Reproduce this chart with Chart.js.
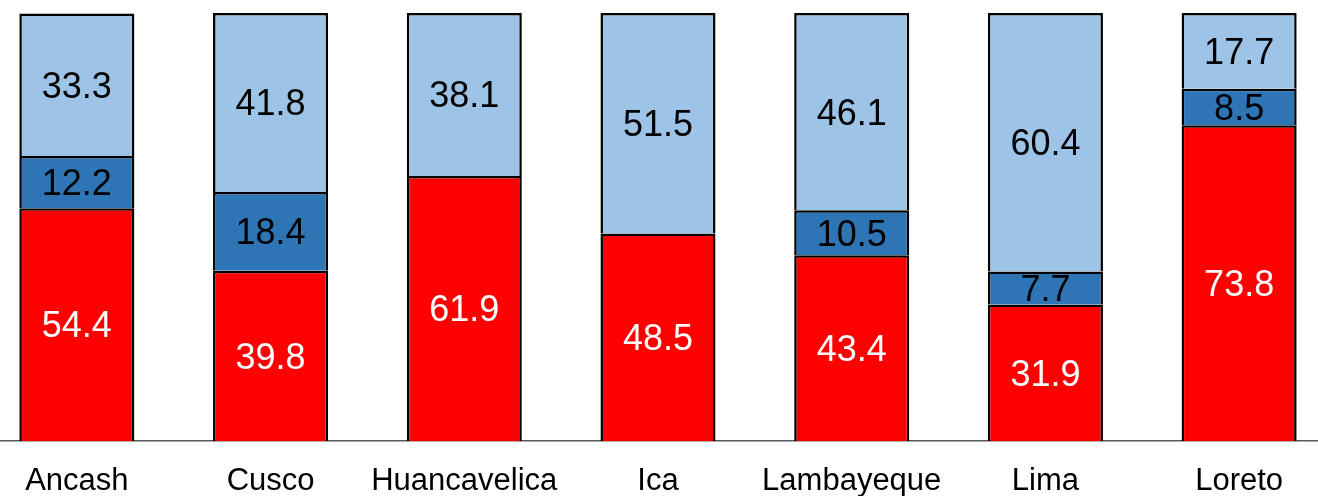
<!DOCTYPE html>
<html lang="es">
<head>
    <meta charset="UTF-8">
    <title>Regiones</title>
    <style>
        html, body { margin: 0; padding: 0; background: #ffffff; overflow: hidden; }
        .marco { position: relative; width: 1318px; height: 496px; overflow: hidden; }
        #grafico { position: absolute; left: -20px; top: 0; }
    </style>
</head>
<body>
    <div class="marco">
        <canvas id="grafico" width="1356" height="496"></canvas>
    </div>

    <script src="https://cdn.jsdelivr.net/npm/chart.js@4/dist/chart.umd.min.js"></script>
    <script>
        const regiones = ['Ancash', 'Cusco', 'Huancavelica', 'Ica', 'Lambayeque', 'Lima', 'Loreto'];
        const serieRoja = [54.4, 39.8, 61.9, 48.5, 43.4, 31.9, 73.8];
        const serieAzul = [12.2, 18.4, null, null, 10.5, 7.7, 8.5];
        const serieCeleste = [33.3, 41.8, 38.1, 51.5, 46.1, 60.4, 17.7];

        const fuente = '"Liberation Sans", Arial, sans-serif';

        // etiquetas dentro de cada segmento
        const etiquetas = {
            id: 'etiquetas',
            afterDatasetsDraw(chart) {
                const ctx = chart.ctx;
                ctx.save();
                ctx.font = '36px ' + fuente;
                ctx.textAlign = 'center';
                ctx.textBaseline = 'alphabetic';
                chart.data.datasets.forEach(function(ds, i) {
                    const meta = chart.getDatasetMeta(i);
                    meta.data.forEach(function(barra, j) {
                        const v = ds.data[j];
                        if (v === null || v === undefined) return;
                        const centro = (barra.y + barra.base) / 2;
                        ctx.fillStyle = ds.colorTexto;
                        ctx.fillText(v.toFixed(1), barra.x, centro + 36 * 0.358);
                    });
                });
                ctx.restore();
            }
        };

        const ctx = document.getElementById('grafico').getContext('2d');
        new Chart(ctx, {
            type: 'bar',
            data: {
                labels: regiones,
                datasets: [
                    { data: serieRoja, backgroundColor: '#ff0000', colorTexto: '#ffffff' },
                    { data: serieAzul, backgroundColor: '#2e75b6', colorTexto: '#000000' },
                    { data: serieCeleste, backgroundColor: '#9dc3e6', colorTexto: '#000000' }
                ].map(function(d) {
                    return Object.assign(d, {
                        borderColor: '#000000',
                        borderWidth: 2.5,
                        categoryPercentage: 1,
                        barPercentage: 0.594
                    });
                })
            },
            options: {
                responsive: false,
                animation: false,
                layout: { padding: { top: 13, bottom: 0, left: 0, right: 0 } },
                plugins: {
                    legend: { display: false },
                    tooltip: { enabled: false }
                },
                scales: {
                    x: {
                        stacked: true,
                        grid: { display: false, drawTicks: false },
                        border: { display: true, color: '#595959', width: 1.5 },
                        ticks: {
                            color: '#000000',
                            padding: 25,
                            font: { family: fuente, size: 31, lineHeight: 1 },
                            maxRotation: 0,
                            autoSkip: false
                        },
                        afterFit: function(escala) { escala.height = 55; }
                    },
                    y: {
                        stacked: true,
                        display: false,
                        min: 0,
                        max: 100
                    }
                }
            },
            plugins: [etiquetas]
        });
    </script>
</body>
</html>
